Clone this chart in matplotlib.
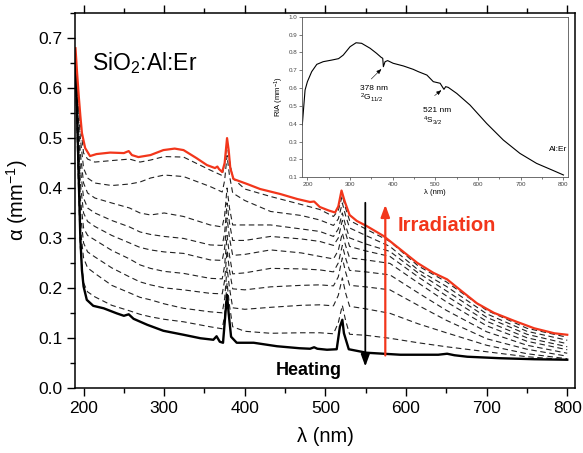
import matplotlib
matplotlib.use("Agg")
import matplotlib.pyplot as plt
from matplotlib.ticker import MultipleLocator, FormatStrFormatter

plt.rcParams["font.family"] = ["Liberation Sans", "DejaVu Sans"]
plt.rcParams["mathtext.default"] = "regular"

# ---- main panel data ----
# after irradiation (red, top curve)
RED_WL = [190, 192, 194, 196, 198, 202, 208, 216, 233, 250, 256, 260, 268, 283, 299,
          313, 324, 340, 353, 363, 366, 368, 372, 375, 378, 380, 382, 386, 403, 419,
          444, 465, 481, 486, 493, 504, 512, 516, 520, 524, 530, 539, 551, 572, 593,
          614, 634, 651, 667, 688, 709, 734, 759, 784, 800]
RED = [0.680, 0.630, 0.585, 0.545, 0.510, 0.480, 0.464, 0.468, 0.471, 0.470, 0.474, 0.466,
       0.462, 0.466, 0.476, 0.479, 0.476, 0.460, 0.446, 0.440, 0.443, 0.438, 0.432, 0.450,
       0.500, 0.476, 0.440, 0.418, 0.408, 0.398, 0.388, 0.378, 0.372, 0.373, 0.362, 0.355,
       0.351, 0.363, 0.395, 0.373, 0.346, 0.334, 0.324, 0.304, 0.277, 0.250, 0.230, 0.217,
       0.196, 0.169, 0.150, 0.134, 0.119, 0.109, 0.106]

# pristine / after heating (bold black, bottom curve)
BLK_WL = [190, 192, 194, 196, 198, 200, 204, 212, 225, 241, 250, 256, 262, 279, 299, 324,
          345, 361, 365, 369, 373, 376, 378, 380, 383, 390, 411, 440, 468, 481, 486, 490,
          502, 514, 518, 521, 523, 529, 551, 593, 640, 651, 660, 676, 717, 759, 800]
BLK = [0.660, 0.550, 0.420, 0.300, 0.235, 0.203, 0.176, 0.164, 0.159, 0.149, 0.144, 0.147,
       0.138, 0.126, 0.114, 0.106, 0.099, 0.096, 0.103, 0.092, 0.090, 0.149, 0.186, 0.149,
       0.102, 0.090, 0.090, 0.083, 0.079, 0.078, 0.081, 0.078, 0.076, 0.077, 0.122, 0.136,
       0.109, 0.077, 0.070, 0.066, 0.066, 0.068, 0.065, 0.062, 0.059, 0.057, 0.056]

# intermediate heating steps (dashed), top to bottom
STEP_WL = [190, 193, 196, 200, 205, 214, 235, 257, 270, 283, 300, 324, 357, 372, 375, 378,
           381, 385, 400, 432, 470, 493, 510, 516, 521, 525, 530, 550, 580, 615, 650, 700,
           750, 800]
STEP1 = [0.660, 0.600, 0.530, 0.470, 0.458, 0.452, 0.455, 0.458, 0.452, 0.456, 0.463, 0.462,
         0.436, 0.425, 0.450, 0.490, 0.455, 0.420, 0.398, 0.383, 0.367, 0.357, 0.343, 0.355,
         0.385, 0.360, 0.335, 0.318, 0.293, 0.244, 0.212, 0.155, 0.119, 0.101]
STEP2 = [0.655, 0.580, 0.500, 0.440, 0.420, 0.410, 0.405, 0.408, 0.412, 0.420, 0.426, 0.423,
         0.403, 0.392, 0.415, 0.465, 0.425, 0.390, 0.375, 0.353, 0.345, 0.336, 0.325, 0.338,
         0.370, 0.345, 0.320, 0.305, 0.283, 0.236, 0.203, 0.148, 0.113, 0.095]
STEP3 = [0.650, 0.560, 0.470, 0.410, 0.390, 0.380, 0.370, 0.360, 0.350, 0.346, 0.350, 0.343,
         0.326, 0.322, 0.345, 0.400, 0.360, 0.326, 0.326, 0.326, 0.318, 0.313, 0.303, 0.318,
         0.350, 0.325, 0.300, 0.288, 0.273, 0.230, 0.194, 0.141, 0.107, 0.088]
STEP4 = [0.650, 0.540, 0.440, 0.380, 0.360, 0.350, 0.335, 0.322, 0.312, 0.307, 0.303, 0.299,
         0.286, 0.285, 0.310, 0.370, 0.330, 0.295, 0.295, 0.303, 0.298, 0.293, 0.285, 0.300,
         0.335, 0.310, 0.283, 0.274, 0.263, 0.222, 0.184, 0.133, 0.100, 0.082]
STEP5 = [0.645, 0.520, 0.410, 0.350, 0.333, 0.323, 0.305, 0.290, 0.281, 0.276, 0.272, 0.269,
         0.256, 0.255, 0.280, 0.340, 0.300, 0.265, 0.267, 0.276, 0.270, 0.263, 0.258, 0.275,
         0.310, 0.285, 0.260, 0.256, 0.249, 0.210, 0.172, 0.124, 0.093, 0.076]
STEP6 = [0.640, 0.500, 0.380, 0.320, 0.305, 0.296, 0.275, 0.258, 0.246, 0.239, 0.233, 0.229,
         0.219, 0.218, 0.245, 0.305, 0.265, 0.228, 0.230, 0.239, 0.238, 0.236, 0.232, 0.250,
         0.285, 0.260, 0.235, 0.232, 0.226, 0.190, 0.155, 0.112, 0.085, 0.069]
STEP7 = [0.640, 0.480, 0.350, 0.290, 0.272, 0.262, 0.240, 0.222, 0.212, 0.206, 0.200, 0.196,
         0.189, 0.188, 0.215, 0.275, 0.235, 0.198, 0.196, 0.202, 0.205, 0.206, 0.204, 0.222,
         0.260, 0.232, 0.205, 0.202, 0.196, 0.165, 0.135, 0.098, 0.077, 0.063]
STEP8 = [0.635, 0.460, 0.320, 0.260, 0.240, 0.229, 0.205, 0.190, 0.181, 0.176, 0.168, 0.159,
         0.152, 0.150, 0.178, 0.240, 0.200, 0.160, 0.157, 0.161, 0.165, 0.166, 0.164, 0.185,
         0.220, 0.190, 0.163, 0.158, 0.149, 0.128, 0.110, 0.085, 0.068, 0.058]
STEP9 = [0.630, 0.440, 0.280, 0.210, 0.192, 0.182, 0.165, 0.154, 0.147, 0.142, 0.137, 0.132,
         0.122, 0.118, 0.145, 0.210, 0.165, 0.122, 0.113, 0.109, 0.110, 0.110, 0.108, 0.130,
         0.165, 0.135, 0.107, 0.105, 0.099, 0.090, 0.082, 0.072, 0.062, 0.056]
STEPS = [STEP1, STEP2, STEP3, STEP4, STEP5, STEP6, STEP7, STEP8, STEP9]

# ---- inset data: RIA spectrum ----
INSET_WL = [188, 194.5, 200, 210, 222, 237, 257, 273, 284, 300, 314, 327, 347, 362, 373,
            376.5, 378, 382, 388, 401, 425, 448, 460, 480, 495, 511, 517, 520, 524, 530,
            550, 581, 620, 659, 698, 737, 777, 800]
INSET_RIA = [0.393, 0.589, 0.636, 0.692, 0.733, 0.748, 0.757, 0.765, 0.785, 0.832, 0.854,
             0.851, 0.823, 0.795, 0.772, 0.767, 0.720, 0.748, 0.754, 0.739, 0.724, 0.705,
             0.692, 0.673, 0.636, 0.627, 0.604, 0.593, 0.608, 0.604, 0.570, 0.505, 0.402,
             0.309, 0.234, 0.178, 0.137, 0.113]

RED_C = "#f2361b"

fig = plt.figure(figsize=(5.83, 4.53), dpi=100)
ax = fig.add_axes([0.1295, 0.1442, 0.8573, 0.8264])

for s in STEPS:
    ax.plot(STEP_WL, s, color="#222222", lw=0.8, dashes=(5, 3.2))
ax.plot(BLK_WL, BLK, color="black", lw=1.7)
ax.plot(RED_WL, RED, color=RED_C, lw=1.6)

ax.set_xlim(190, 810)
ax.set_ylim(0, 0.75)
ax.xaxis.set_major_locator(MultipleLocator(100))
ax.xaxis.set_minor_locator(MultipleLocator(50))
ax.yaxis.set_major_locator(MultipleLocator(0.1))
ax.yaxis.set_minor_locator(MultipleLocator(0.05))
ax.yaxis.set_major_formatter(FormatStrFormatter("%.1f"))
ax.tick_params(which="both", direction="out", top=True, right=False, width=1.0)
ax.tick_params(which="major", length=6, labelsize=12.5)
ax.tick_params(which="minor", length=3.5)
for sp in ax.spines.values():
    sp.set_linewidth(1.1)
ax.set_xlabel("λ (nm)", fontsize=14.5, labelpad=8)
ax.set_ylabel("α (mm$^{-1}$)", fontsize=14.5, labelpad=6)

ax.text(211, 0.637, "SiO$_2$:Al:Er", fontsize=16.5, va="baseline", ha="left")
ax.text(589, 0.314, "Irradiation", fontsize=14.5, fontweight="bold", color=RED_C,
        va="baseline", ha="left")
ax.text(439, 0.025, "Heating", fontsize=13, fontweight="bold", va="baseline", ha="left")
ax.annotate("", xy=(549.5, 0.037), xytext=(549.5, 0.376),
            arrowprops=dict(arrowstyle="-|>,head_length=0.6,head_width=0.22",
                            color="black", lw=1.3, mutation_scale=12))
ax.annotate("", xy=(574.3, 0.372), xytext=(574.3, 0.059),
            arrowprops=dict(arrowstyle="-|>,head_length=0.6,head_width=0.22",
                            color=RED_C, lw=1.6, mutation_scale=12))

# inset
axin = fig.add_axes([0.5185, 0.6086, 0.4553, 0.3545])
axin.plot(INSET_WL, INSET_RIA, color="black", lw=0.8)
axin.set_xlim(188, 810)
axin.set_ylim(0.1, 1.0)
axin.xaxis.set_major_locator(MultipleLocator(100))
axin.xaxis.set_minor_locator(MultipleLocator(50))
axin.yaxis.set_major_locator(MultipleLocator(0.1))
axin.yaxis.set_major_formatter(FormatStrFormatter("%.1f"))
axin.tick_params(which="both", direction="out", width=0.5, colors="#444444",
                 labelsize=4.5, pad=1.5)
axin.tick_params(which="major", length=2)
axin.tick_params(which="minor", length=1.2)
for sp in axin.spines.values():
    sp.set_linewidth(0.6)
    sp.set_color("#555555")
axin.set_xlabel("λ (nm)", fontsize=5.5, labelpad=1.5)
axin.set_ylabel("RIA (mm$^{-1}$)", fontsize=5.5, labelpad=2)

axin.text(323, 0.60, "378 nm", fontsize=6, va="center")
axin.text(323, 0.545, "$^2$G$_{11/2}$", fontsize=6, va="center")
axin.annotate("", xy=(378, 0.718), xytext=(345, 0.64),
              arrowprops=dict(arrowstyle="-|>,head_length=0.5,head_width=0.2",
                              color="black", lw=0.4, mutation_scale=6))
axin.text(472, 0.477, "521 nm", fontsize=6, va="center")
axin.text(472, 0.415, "$^4$S$_{3/2}$", fontsize=6, va="center")
axin.annotate("", xy=(519, 0.598), xytext=(493, 0.548),
              arrowprops=dict(arrowstyle="-|>,head_length=0.5,head_width=0.2",
                              color="black", lw=0.4, mutation_scale=6))
axin.text(765, 0.255, "Al:Er", fontsize=6, va="center")

fig.savefig("out.png", dpi=100)
